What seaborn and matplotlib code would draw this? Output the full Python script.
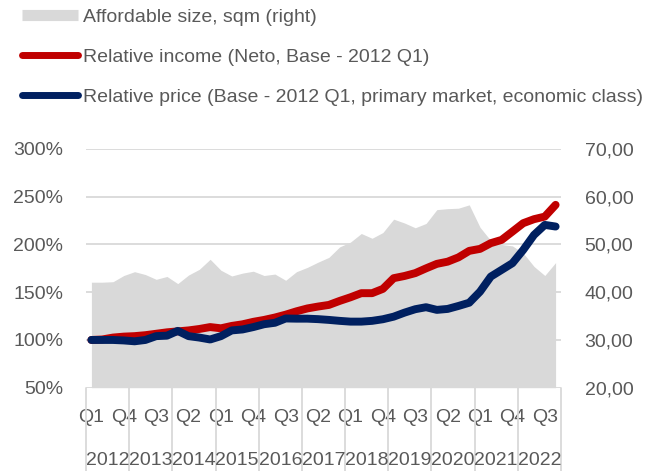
import matplotlib
matplotlib.use("Agg")
import matplotlib.pyplot as plt
from matplotlib import font_manager
from matplotlib.lines import Line2D
import matplotlib.transforms as mtransforms
import seaborn as sns
import numpy as np

# ---------------- data ----------------
years = ["2012", "2013", "2014", "2015", "2016", "2017", "2018", "2019", "2020", "2021", "2022"]
quarters = ["Q1", "Q2", "Q3", "Q4"]

affordable_size = [42.1, 42.1, 42.2, 43.5, 44.3, 43.7, 42.7, 43.3, 41.8, 43.6, 44.8,
                   46.9, 44.6, 43.4, 44.0, 44.4, 43.5, 43.8, 42.5, 44.3, 45.2, 46.3,
                   47.3, 49.5, 50.5, 52.3, 51.3, 52.5, 55.3, 54.5, 53.5, 54.4, 57.3,
                   57.5, 57.6, 58.3, 53.6, 50.8, 50.0, 49.7, 48.2, 45.4, 43.5, 46.2]

relative_income = [100, 100.5, 102.5, 103.5, 104, 105, 106.5, 108, 109, 110, 111.5,
                   113.5, 112.2, 114.7, 116.4, 119, 121, 123.5, 126.5, 130, 133, 135,
                   136.7, 140.9, 144.7, 149, 149, 153.5, 164.7, 167, 170, 175, 179.7,
                   182, 186.5, 193.3, 195.4, 201.4, 204.8, 213.5, 222.3, 226.5, 229.2, 241.5]

relative_price = [100, 100, 100, 99.5, 98.6, 100, 104, 104.5, 109.5, 104, 102.5,
                  100.5, 104, 110, 111, 113.5, 116.5, 118, 122.5, 122.3, 122.3, 121.8,
                  121, 120, 119.2, 119.2, 120, 121.7, 124.4, 128.6, 132.2, 134.3, 131.5,
                  132.5, 135.6, 139, 150.6, 166.4, 173.4, 180.4, 194.3, 210, 220.5, 218.8]

left_ticks = [50, 100, 150, 200, 250, 300]
right_ticks = [20, 30, 40, 50, 60, 70]

labels = ["Affordable size, sqm (right)",
          "Relative income (Neto, Base - 2012 Q1)",
          "Relative price (Base - 2012 Q1, primary market, economic class)"]

# ---------------- style ----------------
sns.set_style("white")
available = {f.name for f in font_manager.fontManager.ttflist}
if "Liberation Sans Narrow" in available:
    FAM = "Liberation Sans Narrow"
    FS = 17
else:
    FAM = "Liberation Sans"
    FS = 14
plt.rcParams["font.family"] = [FAM, "DejaVu Sans"]

TXT = "#595959"
GRID = "#D9D9D9"
AREA = "#D9D9D9"
RED = "#C00000"
BLUE = "#002060"

n = len(affordable_size)
idx = np.arange(n)

fig = plt.figure(figsize=(6.6, 4.71), dpi=100)
ax = fig.add_axes([86 / 660, 1 - 387.7 / 471, 475 / 660, 238.7 / 471])
ax2 = ax.twinx()
ax.set_zorder(2)
ax2.set_zorder(1)
ax.patch.set_visible(False)

# area on right axis
ax2.fill_between(idx, affordable_size, 20, color=AREA, lw=0, zorder=2)
ax2.set_ylim(20, 70)
ax2.set_yticks(right_ticks)
ax2.set_yticklabels([f"{v:.2f}".replace(".", ",") for v in right_ticks])
ax2.grid(axis="y", color=GRID, lw=1.3)
ax2.grid(axis="x", visible=False)
ax2.set_axisbelow(True)
ax2.tick_params(axis="y", length=0, pad=17, labelsize=FS, labelcolor=TXT)

# lines on left axis
sns.lineplot(x=idx, y=relative_income, ax=ax, color=RED, lw=5.7,
             solid_capstyle="round", solid_joinstyle="round", zorder=3)
sns.lineplot(x=idx, y=relative_price, ax=ax, color=BLUE, lw=5.7,
             solid_capstyle="round", solid_joinstyle="round", zorder=4)
ax.set_ylim(50, 300)
ax.set_yticks(left_ticks)
ax.set_yticklabels([f"{v}%" for v in left_ticks])
ax.tick_params(axis="y", length=0, pad=16.5, labelsize=FS, labelcolor=TXT)
ax.set_xlim(-0.5, n - 0.5)
ax.set_ylabel("")
ax.set_xlabel("")

# quarter tick labels every 3 quarters
qpos = list(range(0, n, 3))
ax.set_xticks(qpos)
ax.set_xticklabels([quarters[i % 4] for i in qpos])
ax.tick_params(axis="x", length=0, pad=15, labelsize=FS, labelcolor=TXT)
ax.grid(False)

for a in (ax, ax2):
    for s in a.spines.values():
        s.set_visible(False)

# year group labels and separators
trans = mtransforms.blended_transform_factory(ax.transData, ax.transAxes)
for k, y in enumerate(years):
    ax.text(4 * k + 1.5, -0.304, y, transform=trans, ha="center", va="center",
            fontsize=FS, color=TXT)
for k in range(len(years) + 1):
    ax.plot([4 * k - 0.5, 4 * k - 0.5], [0, -0.36], transform=trans, color=GRID,
            lw=1.3, clip_on=False, zorder=1)

# legend
handles = [Line2D([0], [0], color=AREA, lw=8, solid_capstyle="butt"),
           Line2D([0], [0], color=RED, lw=5, solid_capstyle="round"),
           Line2D([0], [0], color=BLUE, lw=5, solid_capstyle="round")]
fig.legend(handles, labels, loc="upper left", bbox_to_anchor=(22 / 660, 1 - 8 / 471),
           frameon=False, fontsize=FS, labelcolor=TXT, handlelength=2.9,
           handletextpad=0.25, labelspacing=1.15, borderpad=0, borderaxespad=0)

fig.savefig("out.png", dpi=100, facecolor="white")
